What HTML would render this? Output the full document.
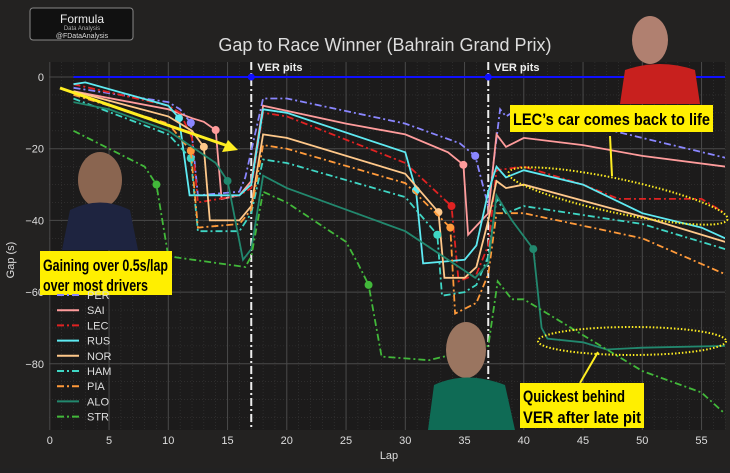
<!DOCTYPE html>
<html><head><meta charset="utf-8"><style>
body{margin:0;background:#222;font-family:"Liberation Sans",sans-serif}
svg text{font-family:"Liberation Sans","DejaVu Sans",sans-serif}
</style></head><body>
<svg id="c" width="730" height="468">
<defs><clipPath id="pc"><rect x="49" y="62" width="676" height="368"/></clipPath></defs>
<rect width="730" height="468" fill="#232221"/>
<rect x="49" y="62" width="676" height="368" fill="#1c1b1b"/>
<g id="grid"></g><g id="series" clip-path="url(#pc)"></g><g id="axes"></g><g id="ann"></g>
</svg>
<script>
const NS="http://www.w3.org/2000/svg";
const svg=document.getElementById('c');
const xTicks=[0,5,10,15,20,25,30,35,40,45,50,55];
const yTicks=[0,-20,-40,-60,-80];
const drivers=["PER","SAI","LEC","RUS","NOR","HAM","PIA","ALO","STR"];
const colors=["#8a86ff","#ff9c9c","#e02222","#5eeaf2","#ffc88a","#3fd6c4","#ff9a3a","#22886e","#42b83a"];
const dashed=[true,false,true,false,false,true,true,false,true];
const perLaps=[2,10,11,11.9,12.5,16,16.5,18,20,30,34.6,35.9,37,38,38.5,40,45,50,57];
const perGap=[-3,-7,-9,-12.8,-33,-32,-28,-6,-6,-13,-18.5,-22,-36,-9,-11,-8,-13,-17,-22.5];
const saiLaps=[2,10,12,13,14,14.5,16,17,18,25,30,33.6,34.9,35.3,37,37.7,38.5,40,45,50,57];
const saiGap=[-4,-9,-11.5,-12.5,-14.8,-34,-33,-29,-8,-13,-16,-21,-24.5,-44,-38,-16,-19.5,-17,-19,-22,-25];
const lecLaps=[2,10,11,12,12.5,16,17,18,20,30,33.9,34.5,36,37,37.7,40,45,48,55,57];
const lecGap=[-2,-8,-10,-17,-35,-33,-31,-10,-11,-24,-36,-57,-55,-47,-26,-25,-30,-34,-34,-38];
const rusLaps=[2,3,10,10.9,11.8,16,17,18,20,30,30.9,31.5,35,36,37,37.7,38.5,40,45,50,55,57];
const rusGap=[-2,-1.5,-8,-11.5,-33,-33,-30,-9,-10,-21,-31.6,-52,-51,-47,-32,-25,-28,-26,-30,-38,-42,-45];
const norLaps=[2,10,12,13,13.5,16,17,18,20,30,32.8,33.3,35,36,37,37.7,38.5,40,50,57];
const norGap=[-4,-11,-15,-19.5,-40,-40,-36,-16,-17,-27,-37.7,-56,-56,-53,-40,-29,-31,-30,-39,-46];
const hamLaps=[2,10,11.9,12.5,16,17,18,20,30,32.7,33.1,35,36,37,37.7,38.5,40,50,57];
const hamGap=[-6,-16,-22.7,-43,-43,-38,-23,-24,-33.5,-44,-61,-60,-58,-50,-34,-38,-36,-41,-48];
const piaLaps=[2,10,11.9,12.5,16,17,18,20,30,33.8,34.2,36,37,37.7,40,50,57];
const piaGap=[-5,-13,-20.6,-42,-41,-37,-19,-20,-29.6,-42,-66,-63,-55,-38,-38,-45,-55];
const aloLaps=[2,5,10,14,15,16.3,17,18,20,30,35.9,37,37.7,39,40.8,41.5,42,45,47,50,57];
const aloGap=[-7,-9,-15,-24,-29,-51,-48,-27.5,-31,-43,-56,-52,-33,-40,-48,-70,-73,-74,-76,-75.5,-75];
const strLaps=[2,8,9,10,16.5,17,18,20,25,26,26.9,28,32,37,37.8,39,40,42,45,50,55,57];
const strGap=[-15,-25,-30,-50,-53,-50,-32,-35,-46,-52,-58,-78,-79,-75,-57,-62,-62,-66,-72,-82,-88,-94];
const lapsAll=[perLaps,saiLaps,lecLaps,rusLaps,norLaps,hamLaps,piaLaps,aloLaps,strLaps];
const gapsAll=[perGap,saiGap,lecGap,rusGap,norGap,hamGap,piaGap,aloGap,strGap];
const dotLap=[11.9,14,33.9,10.9,13,11.9,11.9,15,9];
const dotLap2=[35.9,34.9,null,30.9,32.8,32.7,33.8,40.8,26.9];
const pitLaps=[17,37];
const X=l=>49.8+l*11.85, Y=g=>77-g*3.585;
function el(t,a,p){const e=document.createElementNS(NS,t);for(const k in a)e.setAttribute(k,a[k]);(p||svg).appendChild(e);return e;}
const G=document.getElementById('grid'),S=document.getElementById('series'),A=document.getElementById('axes');
for(let l=0;l<=57;l+=1){if(l%5)el('line',{x1:X(l),x2:X(l),y1:62,y2:430,stroke:'#383838','stroke-width':0.6,'stroke-dasharray':'1 2'},G);}
for(let g=0;g>=-98;g-=5){if(g%20)el('line',{x1:49,x2:725,y1:Y(g),y2:Y(g),stroke:'#383838','stroke-width':0.6,'stroke-dasharray':'1 2'},G);}
xTicks.forEach(t=>{const l=el('line',{x1:X(t),x2:X(t),y1:62,y2:430,stroke:'#4a4a4a','stroke-width':1},G);


const tx=el('text',{x:X(t),y:444,fill:'#ddd','font-size':11,'text-anchor':'middle'},A);tx.textContent=t;

});
yTicks.forEach(t=>{el('line',{x1:49,x2:725,y1:Y(t),y2:Y(t),stroke:'#4a4a4a','stroke-width':1},G);
const tx=el('text',{x:44,y:Y(t)+4,fill:'#ddd','font-size':11,'text-anchor':'end'},A);tx.textContent=t===0?'0':'\u2212'+(-t);

});
const ver=el('line',{x1:X(2),x2:X(57),y1:Y(0),y2:Y(0),stroke:'#1010ff','stroke-width':2},S);


pitLaps.forEach(p=>{const l=el('line',{x1:X(p),x2:X(p),y1:62,y2:430,stroke:'#eee','stroke-width':2,'stroke-dasharray':'8 3 2 3'},S);


el('circle',{cx:X(p),cy:Y(0),r:3.5,fill:'#1010ff'},S);
const t=el('text',{x:X(p)+6,y:71,fill:'#eee','font-size':11,'font-weight':'bold'},S);t.textContent='VER pits';

});
drivers.forEach((d,i)=>{const L=lapsAll[i],Gp=gapsAll[i];
const pts=L.map((l,j)=>X(l).toFixed(1)+','+Y(Gp[j]).toFixed(1)).join(' ');
const pl=el('polyline',{points:pts,fill:'none',stroke:colors[i],'stroke-width':1.8,'stroke-dasharray':dashed[i]?'7 3 2 3':'none'},S);


[dotLap[i],dotLap2[i]].forEach(dl=>{if(dl==null)return;const j=L.indexOf(dl);if(j<0)return;
const c=el('circle',{cx:X(dl),cy:Y(Gp[j]),r:4,fill:colors[i]},S);

});});
</script>
<svg width="730" height="468" style="position:absolute;left:0;top:0">
<text x="385" y="51" fill="#ddd" font-size="18" text-anchor="middle">Gap to Race Winner (Bahrain Grand Prix)</text>
<text x="389" y="459" fill="#ddd" font-size="11" text-anchor="middle">Lap</text>
<text x="14" y="260" fill="#ddd" font-size="11" text-anchor="middle" transform="rotate(-90 14 260)">Gap (s)</text>
<g><rect x="30" y="8" width="103" height="32" rx="3" fill="#111" stroke="#888"/>
<text x="82" y="23" fill="#eee" font-size="12" text-anchor="middle">Formula</text>
<text x="82" y="30" fill="#aaa" font-size="6" text-anchor="middle">Data Analysis</text>
<text x="82" y="38" fill="#ddd" font-size="7" text-anchor="middle">@FDataAnalysis</text></g>
<g><ellipse cx="100" cy="180" rx="22" ry="28" fill="#8a6550"/><path d="M62 250 L70 210 Q100 195 130 210 L138 250Z" fill="#1e2440"/></g>
<g><ellipse cx="650" cy="40" rx="18" ry="24" fill="#b08070"/><path d="M620 104 L625 70 Q660 58 695 70 L700 104Z" fill="#c8201e"/></g>
<g><ellipse cx="466" cy="350" rx="20" ry="28" fill="#9a7560"/><path d="M428 430 L434 385 Q466 370 505 385 L515 430Z" fill="#0f6b55"/></g>
<rect x="40" y="251" width="132" height="44" fill="#ffef00"/>
<text x="43" y="271" font-size="17" font-weight="bold" fill="#000" textLength="125" lengthAdjust="spacingAndGlyphs">Gaining over 0.5s/lap</text>
<text x="43" y="291" font-size="17" font-weight="bold" fill="#000" textLength="105" lengthAdjust="spacingAndGlyphs">over most drivers</text>
<rect x="510" y="105" width="203" height="27" fill="#ffef00"/>
<text x="513" y="125" font-size="17" font-weight="bold" fill="#000" textLength="197" lengthAdjust="spacingAndGlyphs">LEC’s car comes back to life</text>
<rect x="520" y="383" width="124" height="45" fill="#ffef00"/>
<text x="523" y="402" font-size="17" font-weight="bold" fill="#000" textLength="102" lengthAdjust="spacingAndGlyphs">Quickest behind</text>
<text x="523" y="423" font-size="17" font-weight="bold" fill="#000" textLength="118" lengthAdjust="spacingAndGlyphs">VER after late pit</text>
<line x1="60" y1="88" x2="228" y2="146" stroke="#ffee22" stroke-width="3"/>
<polygon points="238,150 222,152 228,140" fill="#ffee22"/>
<ellipse cx="618" cy="196" rx="112" ry="17" transform="rotate(12 618 196)" fill="none" stroke="#ffee22" stroke-width="2" stroke-dasharray="1.5 2"/>
<line x1="610" y1="136" x2="612" y2="176" stroke="#ffee22" stroke-width="2"/>
<ellipse cx="632" cy="341" rx="94" ry="14" fill="none" stroke="#ffee22" stroke-width="2" stroke-dasharray="1.5 2"/>
<line x1="580" y1="383" x2="598" y2="352" stroke="#ffee22" stroke-width="2"/>
<g id="leg"></g>
</svg>
<script>
(function(){const NS="http://www.w3.org/2000/svg";const leg=document.getElementById('leg');
const names=["PER","SAI","LEC","RUS","NOR","HAM","PIA","ALO","STR"];
const cols=["#8a86ff","#ff9c9c","#e02222","#5eeaf2","#ffc88a","#3fd6c4","#ff9a3a","#22886e","#42b83a"];
const dsh=[1,0,1,0,0,1,1,0,1];
names.forEach((n,i)=>{const y=295+i*15.2;
const l=document.createElementNS(NS,'line');l.setAttribute('x1',57);l.setAttribute('x2',79);l.setAttribute('y1',y);l.setAttribute('y2',y);
l.setAttribute('stroke',cols[i]);l.setAttribute('stroke-width',2);if(dsh[i])l.setAttribute('stroke-dasharray','7 3 2 3');


leg.appendChild(l);
const t=document.createElementNS(NS,'text');t.setAttribute('x',87);t.setAttribute('y',y+4);t.setAttribute('fill','#ddd');t.setAttribute('font-size',11);t.textContent=n;


leg.appendChild(t);});})();
</script>
</body></html>
